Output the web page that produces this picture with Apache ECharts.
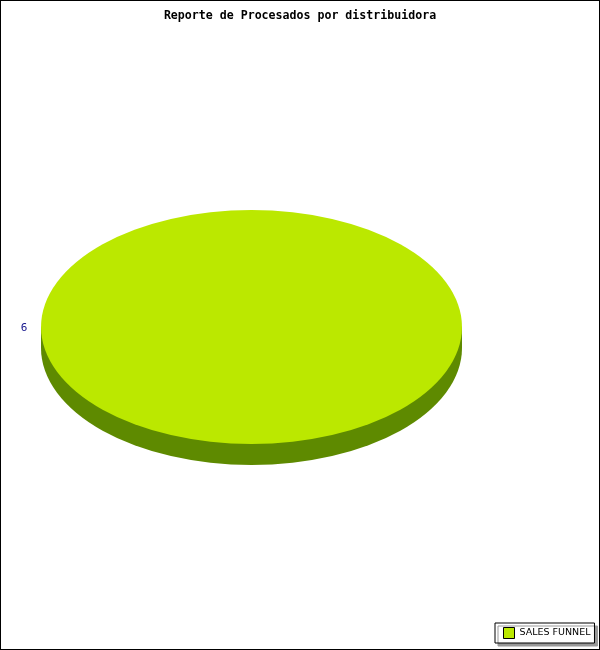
<!DOCTYPE html>
<html><head><meta charset="utf-8">
<script src="https://cdn.jsdelivr.net/npm/echarts@6/dist/echarts.min.js"></script>
<style>html,body{margin:0;padding:0;background:#fff}#c{width:598px;height:648px;border:1px solid #000}</style>
</head><body><div id="c"></div>
<script>
const categories = ['SALES FUNNEL'];
const values = [6];
const labels = ['6'];
const topColors = ['#BBE800'];
const sideColors = ['#5E8A00'];

const chart = echarts.init(document.getElementById('c'), null, {renderer: 'canvas'});
const total = values.reduce((a, b) => a + b, 0);
const CX = 250.5, CY = 326, RX = 210.5, RY = 117, DEPTH = 21;
const sy = RY / RX;

function renderItem(params, api) {
  const idx = params.dataIndex;
  let before = 0;
  for (let i = 0; i < idx; i++) before += values[i];
  const v = api.value(1);
  const start = before / total * Math.PI * 2;
  const end = (before + v) / total * Math.PI * 2;
  const mid = (start + end) / 2;
  const children = [];
  children.push({
    type: 'sector', shape: {cx: CX, cy: CY + DEPTH, r: RX, r0: 0, startAngle: start, endAngle: end},
    scaleY: sy, originX: CX, originY: CY + DEPTH,
    style: {fill: sideColors[idx]}, silent: true
  });
  if (end - start >= Math.PI * 2 - 1e-6) {
    children.push({
      type: 'rect', shape: {x: CX - RX, y: CY, width: RX * 2, height: DEPTH},
      style: {fill: sideColors[idx]}, silent: true
    });
  }
  children.push({
    type: 'sector', shape: {cx: CX, cy: CY, r: RX, r0: 0, startAngle: start, endAngle: end},
    scaleY: sy, originX: CX, originY: CY,
    style: {fill: topColors[idx]}
  });
  children.push({
    type: 'text',
    x: CX + Math.cos(mid) * (RX + 17), y: CY + Math.sin(mid) * (RY + 10) + 1,
    style: {text: labels[idx], fill: '#14148c', font: '11px "DejaVu Sans Mono"', align: 'center', verticalAlign: 'middle'}
  });
  return {type: 'group', children: children};
}

chart.setOption({
  animation: false,
  title: {
    text: 'Reporte de Procesados por distribuidora', left: 'center', top: 4,
    textStyle: {fontFamily: '"DejaVu Sans Mono", monospace', fontWeight: 'bold', fontSize: 11.6, color: '#000'}
  },
  legend: {
    data: categories, left: 494, top: 622, orient: 'vertical',
    padding: [4, 4, 4, 8], itemWidth: 11, itemHeight: 11,
    icon: 'rect', backgroundColor: '#fff', borderColor: '#000', borderWidth: 1, borderRadius: 0,
    shadowColor: '#999', shadowOffsetX: 3, shadowOffsetY: 3, shadowBlur: 0,
    itemStyle: {borderColor: '#000', borderWidth: 1},
    textStyle: {fontFamily: '"DejaVu Sans"', fontSize: 9.5, color: '#000'},
    selectedMode: false
  },
  series: [{
    type: 'custom', name: categories[0], coordinateSystem: 'none',
    itemStyle: {color: topColors[0]},
    renderItem: renderItem,
    data: values.map((v, i) => [i, v])
  }]
});
</script></body></html>
